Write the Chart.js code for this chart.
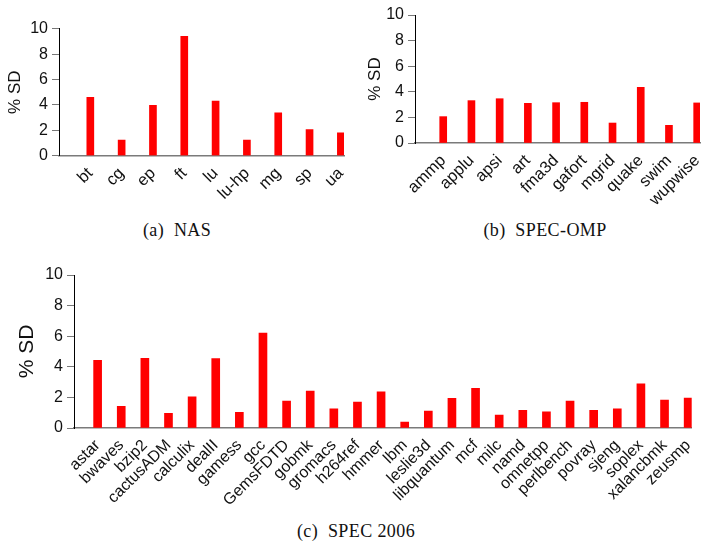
<!DOCTYPE html>
<html>
<head>
<meta charset="utf-8">
<script src="https://cdn.jsdelivr.net/npm/chart.js@4/dist/chart.umd.min.js"></script>
<style>
  html, body { margin: 0; padding: 0; background: #fff; }
  body { width: 701px; height: 547px; position: relative; overflow: hidden; }
  .box { position: absolute; }
  .cap { position: absolute; font-family: "Liberation Serif", "Times New Roman", serif; font-size: 18px; color: #111; white-space: pre; letter-spacing: 0.4px; transform: translateX(-50%); }
</style>
</head>
<body>
<div class="box" id="boxA" style="left:0;top:0;width:350px;height:215px"><canvas id="cA"></canvas></div>
<div class="box" id="boxB" style="left:360px;top:0;width:341px;height:215px"><canvas id="cB"></canvas></div>
<div class="box" id="boxC" style="left:0;top:255px;width:701px;height:265px"><canvas id="cC"></canvas></div>
<div class="cap" style="left:177px;top:220px">(a)  NAS</div>
<div class="cap" style="left:545px;top:220px">(b)  SPEC-OMP</div>
<div class="cap" style="left:356px;top:521px">(c)  SPEC 2006</div>
<script>
// ---- data ----
const nasCategories = ['bt', 'cg', 'ep', 'ft', 'lu', 'lu-hp', 'mg', 'sp', 'ua'];
const nasValues = [4.6, 1.23, 3.97, 9.4, 4.31, 1.23, 3.37, 2.06, 1.8];

const ompCategories = ['ammp', 'applu', 'apsi', 'art', 'fma3d', 'gafort', 'mgrid', 'quake', 'swim', 'wupwise'];
const ompValues = [2.06, 3.31, 3.46, 3.1, 3.15, 3.18, 1.56, 4.35, 1.38, 3.13];

const specCategories = ['astar', 'bwaves', 'bzip2', 'cactusADM', 'calculix', 'dealII', 'gamess', 'gcc', 'GemsFDTD', 'gobmk', 'gromacs', 'h264ref', 'hmmer', 'lbm', 'leslie3d', 'libquantum', 'mcf', 'milc', 'namd', 'omnetpp', 'perlbench', 'povray', 'sjeng', 'soplex', 'xalancbmk', 'zeusmp'];
const specValues = [4.42, 1.42, 4.55, 0.96, 2.03, 4.53, 1.02, 6.21, 1.76, 2.42, 1.26, 1.7, 2.37, 0.39, 1.11, 1.94, 2.59, 0.85, 1.15, 1.05, 1.76, 1.15, 1.26, 2.88, 1.83, 1.96];

const yTickValues = [0, 1, 2, 3, 4, 5, 6, 7, 8, 9, 10];
const yAxisTitle = '% SD';

const FONT = '"Liberation Sans", Arial, Helvetica, sans-serif';

// ---- chart builder ----
function makeChart(id, cats, vals, cfg) {
  const ctx = document.getElementById(id);
  return new Chart(ctx, {
    type: 'bar',
    data: {
      datasets: [{
        data: cats.map((c, i) => ({ x: i + 1, y: vals[i] })),
        backgroundColor: '#ff0000',
        borderWidth: 0,
        barThickness: cfg.bar,
      }]
    },
    options: {
      responsive: true,
      maintainAspectRatio: false,
      animation: false,
      events: [],
      layout: { padding: cfg.pad },
      plugins: { legend: { display: false }, tooltip: { enabled: false }, title: { display: false } },
      scales: {
        x: {
          type: 'linear',
          offset: false,
          min: 0,
          max: cfg.xmax,
          afterBuildTicks: (s) => { s.ticks = cats.map((c, i) => ({ value: i + 1 })); },
          afterFit: (s) => { s.height = cfg.xh; s.paddingLeft = 0; s.paddingRight = 0; },
          grid: { display: false },
          border: { display: true, color: '#7a7a7a', width: 1.5 },
          ticks: {
            autoSkip: false,
            minRotation: 45,
            maxRotation: 45,
            padding: cfg.xpad,
            color: '#111',
            font: { family: FONT, size: cfg.xfont },
            callback: (v) => cats[v - 1] !== undefined ? cats[v - 1] : ''
          }
        },
        y: {
          min: 0,
          max: 10,
          afterBuildTicks: (s) => { s.ticks = yTickValues.map(v => ({ value: v })); },
          afterFit: (s) => { s.width = cfg.yw; s.paddingTop = 0; s.paddingBottom = 0; },
          grid: {
            drawOnChartArea: false,
            drawTicks: true,
            tickLength: 7,
            tickColor: '#777',
            tickWidth: 1,
            tickBorderDash: (c) => (c.tick && c.tick.value % 2) ? [0, 4, 3, 100] : []
          },
          border: { display: true, color: '#000', width: 1 },
          ticks: {
            padding: 4,
            color: '#111',
            font: { family: FONT, size: cfg.yfont },
            callback: (v) => (v % 2 === 0) ? String(v) : ''
          },
          title: {
            display: true,
            text: yAxisTitle,
            color: '#111',
            font: { family: FONT, size: cfg.tfont },
            padding: { top: cfg.tpad, bottom: 0 }
          }
        }
      }
    }
  });
}

makeChart('cA', nasCategories, nasValues, {
  bar: 7, xmax: 9.1, xh: 59.3, yw: 59, pad: { top: 28.7, right: 6, left: 0, bottom: 0 },
  xpad: 0, xfont: 16.5, yfont: 16, tfont: 17, tpad: 5
});
makeChart('cB', ompCategories, ompValues, {
  bar: 7, xmax: 10.1, xh: 72, yw: 55, pad: { top: 15, right: 1, left: 0, bottom: 0 },
  xpad: 0, xfont: 16.5, yfont: 16, tfont: 17, tpad: 5
});
makeChart('cC', specCategories, specValues, {
  bar: 8, xmax: 26.15, xh: 92, yw: 74, pad: { top: 20, right: 9.3, left: 0, bottom: 0 },
  xpad: 0, xfont: 16, yfont: 16, tfont: 21, tpad: 15
});
</script>
</body>
</html>
